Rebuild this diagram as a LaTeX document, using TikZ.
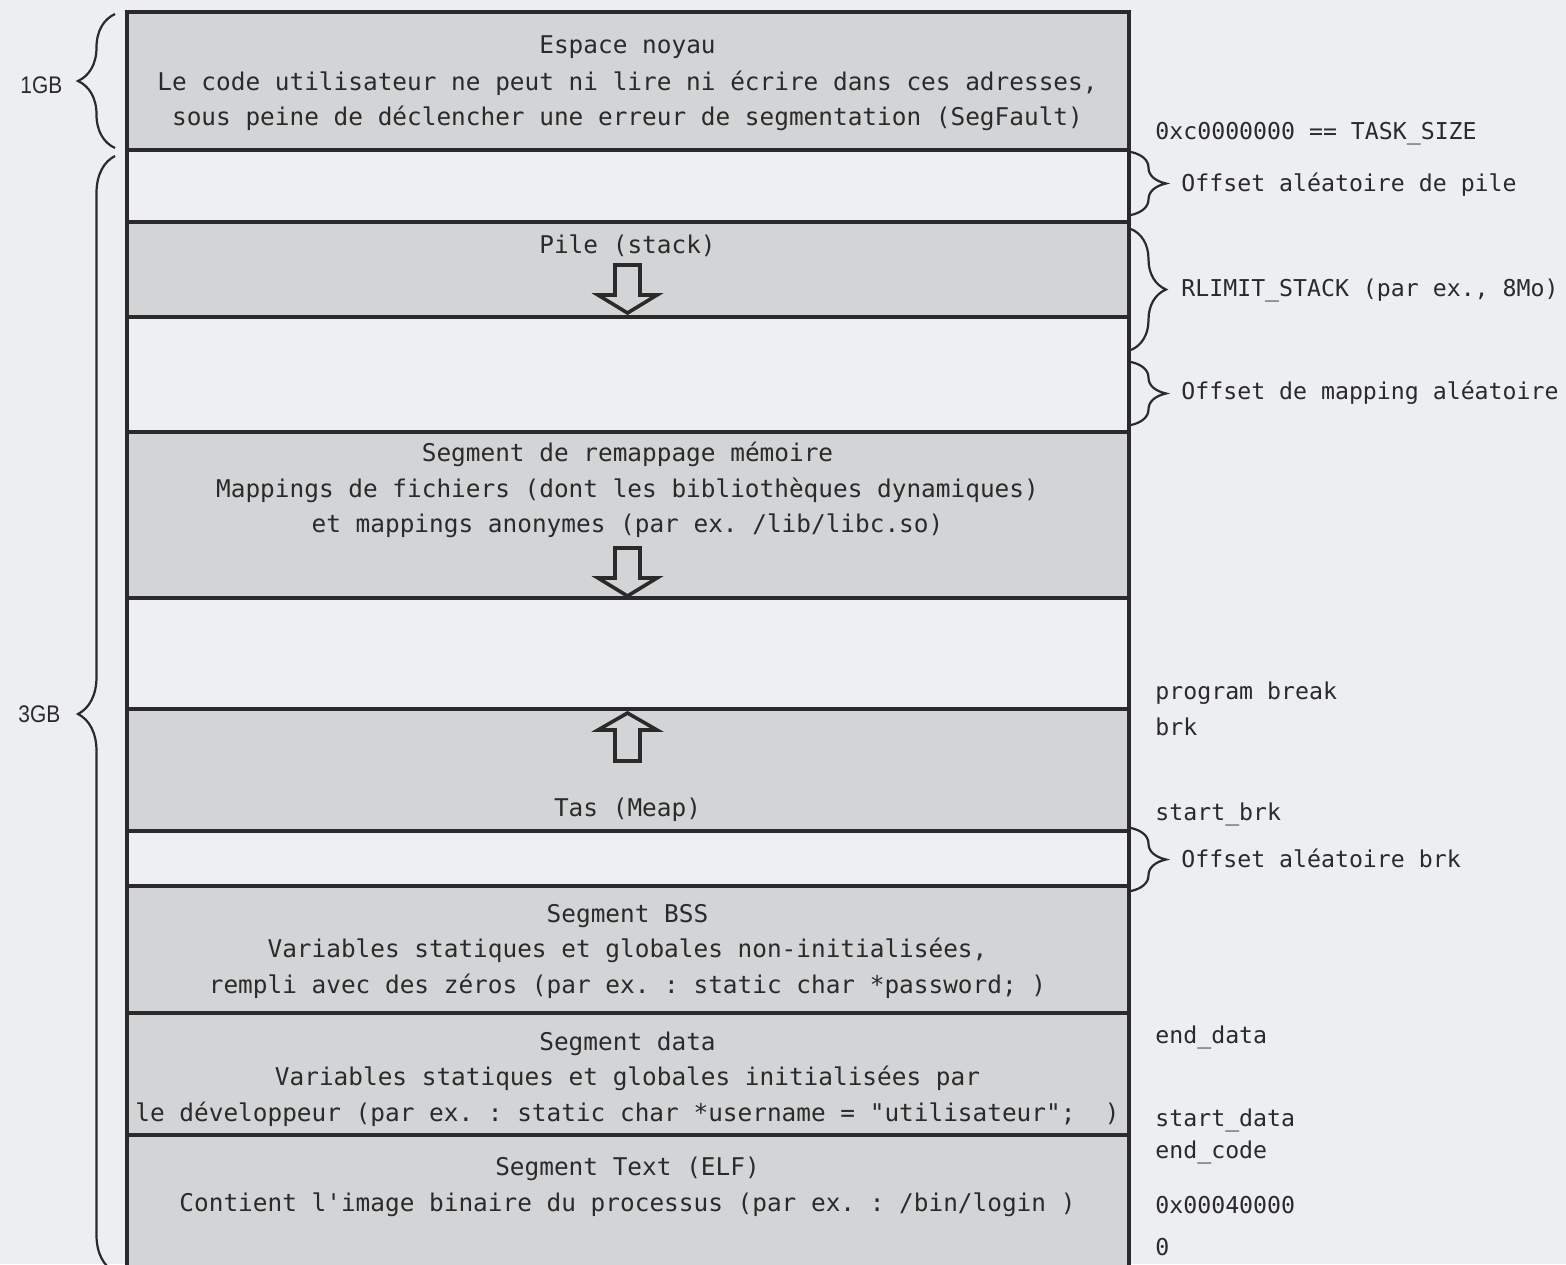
\documentclass[tikz,border=0pt]{standalone}
\usepackage{fontspec}
\setmonofont{DejaVu Sans Mono}
\newfontfamily\gbfont[FakeStretch=0.87]{Liberation Sans}
\usetikzlibrary{decorations.pathreplacing}
\definecolor{bg}{HTML}{ECEEF1}
\definecolor{segfill}{HTML}{D3D4D6}
\definecolor{gapfill}{HTML}{EEEFF2}
\definecolor{ink}{HTML}{2A2A2A}

\begin{document}
\begin{tikzpicture}[x=0.5pt,y=-0.5pt,
  seg/.style={fill=segfill},
  gap/.style={fill=gapfill},
  border/.style={draw=ink,line width=1.9pt},
  txt/.style={inner sep=0pt,anchor=base,text=ink,
    font=\ttfamily\fontsize{12.2}{14}\selectfont\frenchspacing},
  addr/.style={inner sep=0pt,anchor=base west,text=ink,
    font=\ttfamily\fontsize{11.6}{14}\selectfont\frenchspacing},
  gb/.style={inner sep=0pt,anchor=base west,text=ink,
    font=\gbfont\fontsize{12}{14}\selectfont},
  bracer/.style={draw=ink,line width=1.1pt,decorate,
    decoration={brace,amplitude=17.5pt}},
  bracel/.style={draw=ink,line width=1.1pt,decorate,
    decoration={brace,amplitude=18.5pt}},
  blockarrow/.style={draw=ink,line width=1.8pt,fill=segfill,line join=miter}
]
% canvas
\clip (0,0) rectangle (1566,1264);
\fill[bg] (0,0) rectangle (1566,1264);

% address-space bands, top to bottom
\fill[seg] (127,12)   rectangle (1129,150);
\fill[gap] (127,150)  rectangle (1129,222);
\fill[seg] (127,222)  rectangle (1129,317);
\fill[gap] (127,317)  rectangle (1129,432);
\fill[seg] (127,432)  rectangle (1129,598);
\fill[gap] (127,598)  rectangle (1129,709);
\fill[seg] (127,709)  rectangle (1129,831);
\fill[gap] (127,831)  rectangle (1129,886);
\fill[seg] (127,886)  rectangle (1129,1290);

% growth arrows
\draw[blockarrow] (615,265) -- (640,265) -- (640,295) -- (657,295) -- (627.5,313)
  -- (598,295) -- (615,295) -- cycle;
\draw[blockarrow] (615,548) -- (640,548) -- (640,578) -- (657,578) -- (627.5,596)
  -- (598,578) -- (615,578) -- cycle;
\draw[blockarrow] (615,761) -- (640,761) -- (640,730) -- (657,730) -- (627.5,713)
  -- (598,730) -- (615,730) -- cycle;

% band separators and frame
\foreach \y in {150,222,317,432,598,709,831,886,1013,1135}
  \draw[border] (127,\y) -- (1129,\y);
\draw[border] (127,1290) -- (127,12) -- (1129,12) -- (1129,1290);

% left braces
\coordinate (kb) at (115,148);
\coordinate (kt) at (115,14);
\coordinate (ub) at (115,1272);
\coordinate (ut) at (115,156);
\draw[bracel] (kb) -- (kt);
\draw[bracel] (ub) -- (ut);
\node[gb] (gb1) at (20,93) {1GB};
\node[gb] (gb3) at (18,722) {3GB};

% right braces
\coordinate (r1a) at (1131,152);
\coordinate (r1b) at (1131,215);
\coordinate (r2a) at (1131,229);
\coordinate (r2b) at (1131,350);
\coordinate (r3a) at (1131,362);
\coordinate (r3b) at (1131,425);
\coordinate (r4a) at (1131,828);
\coordinate (r4b) at (1131,891);
\draw[bracer] (r1a) -- (r1b);
\draw[bracer] (r2a) -- (r2b);
\draw[bracer] (r3a) -- (r3b);
\draw[bracer] (r4a) -- (r4b);
\node[addr] (offpile) at (1181,191) {Offset aléatoire de pile};
\node[addr] (rlimit)  at (1181,296) {RLIMIT\_STACK (par ex., 8Mo)};
\node[addr] (offmap)  at (1181,399) {Offset de mapping aléatoire};
\node[addr] (offbrk)  at (1181,867) {Offset aléatoire brk};

% addresses
\node[addr] (task)   at (1155,139)  {0xc0000000 == TASK\_SIZE};
\node[addr] (pbreak) at (1155,699)  {program break};
\node[addr] (brk)    at (1155,735)  {brk};
\node[addr] (sbrk)   at (1155,820)  {start\_brk};
\node[addr] (edata)  at (1155,1043) {end\_data};
\node[addr] (sdata)  at (1155,1126) {start\_data};
\node[addr] (ecode)  at (1155,1158) {end\_code};
\node[addr] (base)   at (1155,1213) {0x00040000};
\node[addr] (zero)   at (1155,1255) {0};

% band contents
\node[txt] (k1) at (627.5,53)  {Espace noyau};
\node[txt] (k2) at (627.5,90)  {Le code utilisateur ne peut ni lire ni écrire dans ces adresses,};
\node[txt] (k3) at (627.5,125) {sous peine de déclencher une erreur de segmentation (SegFault)};

\node[txt] (st) at (627.5,253) {Pile (stack)};

\node[txt] (m1) at (627.5,461) {Segment de remappage mémoire};
\node[txt] (m2) at (627.5,497) {Mappings de fichiers (dont les bibliothèques dynamiques)};
\node[txt] (m3) at (627.5,532) {et mappings anonymes (par ex. /lib/libc.so)};

\node[txt] (hp) at (627.5,816) {Tas (Meap)};

\node[txt] (b1) at (627.5,922) {Segment BSS};
\node[txt] (b2) at (627.5,957) {Variables statiques et globales non-initialisées,};
\node[txt] (b3) at (627.5,993) {rempli avec des zéros (par ex. : static char *password; )};

\node[txt] (d1) at (627.5,1050) {Segment data};
\node[txt] (d2) at (627.5,1085) {Variables statiques et globales initialisées par};
\node[txt] (d3) at (627.5,1121) {le développeur (par ex. : static char *username = "utilisateur";\ \ )};

\node[txt] (t1) at (627.5,1175) {Segment Text (ELF)};
\node[txt] (t2) at (627.5,1211) {Contient l'image binaire du processus (par ex. : /bin/login )};
\end{tikzpicture}
\end{document}
